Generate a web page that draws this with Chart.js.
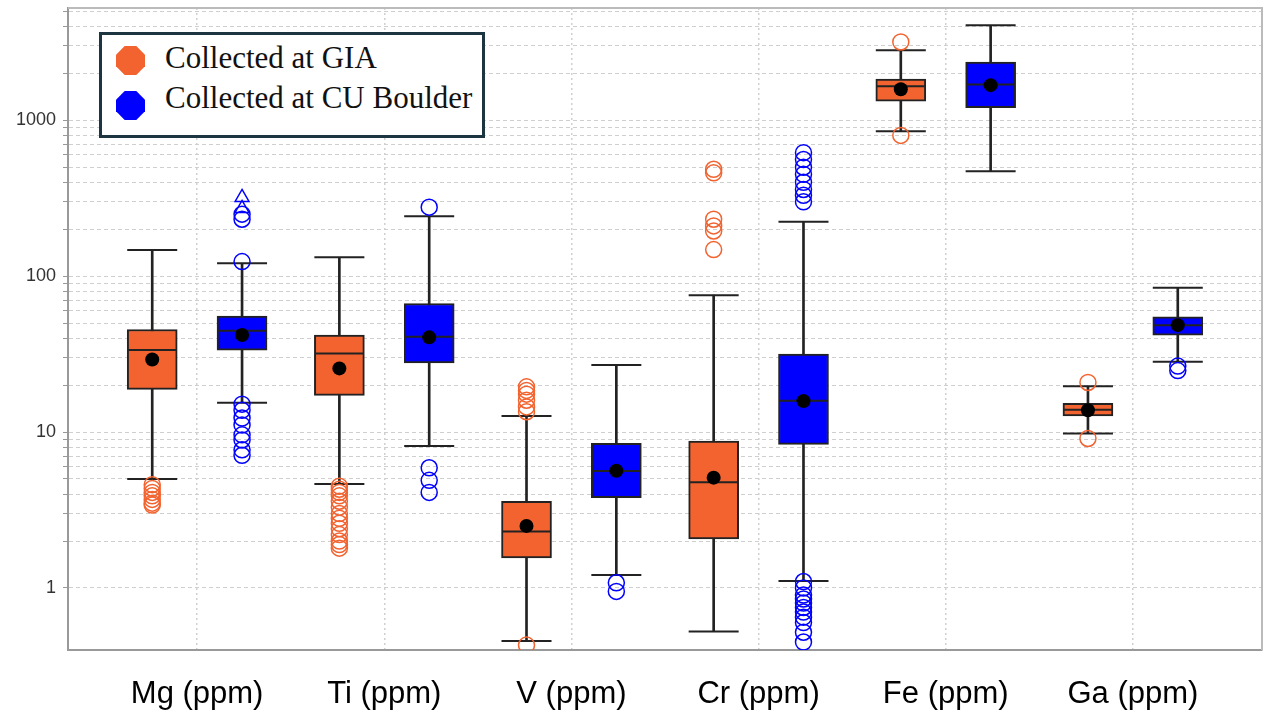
<!DOCTYPE html>
<html>
<head>
<meta charset="utf-8">
<script src="https://cdn.jsdelivr.net/npm/chart.js@4.4.0/dist/chart.umd.min.js"></script>
<style>
  body { margin: 0; background: #fff; }
  #wrap { position: relative; width: 1263px; height: 723px; }
  #legend {
    position: absolute; left: 99px; top: 32px; width: 380px; height: 100px;
    border: 3px solid #1d3541; background: #fff;
    font-family: "Liberation Serif", "Times New Roman", serif; font-size: 31px; color: #111;
  }
  .row { position: absolute; left: 63px; line-height: 31px; white-space: nowrap; }
  .oct {
    position: absolute; left: 14px; width: 29px; height: 29px;
    clip-path: polygon(30% 0, 70% 0, 100% 30%, 100% 70%, 70% 100%, 30% 100%, 0 70%, 0 30%);
  }
</style>
</head>
<body>
<div id="wrap">
  <canvas id="chart" width="1263" height="723"></canvas>
  <div id="legend">
    <div class="oct" style="top:11px;background:#f2632f"></div>
    <div class="row" style="top:7px">Collected at GIA</div>
    <div class="oct" style="top:56px;background:#0000ff"></div>
    <div class="row" style="top:47px">Collected at CU Boulder</div>
  </div>
</div>
<script>
const ctx = document.getElementById('chart');

// categories and tick values
const elements = ['Mg (ppm)', 'Ti (ppm)', 'V (ppm)', 'Cr (ppm)', 'Fe (ppm)', 'Ga (ppm)'];
const yTicks = [1, 2, 3, 4, 5, 6, 7, 8, 9, 10, 20, 30, 40, 50, 60, 70, 80, 90,
  100, 200, 300, 400, 500, 600, 700, 800, 900, 1000, 2000, 3000, 4000, 5000];
const yLabels = [1, 10, 100, 1000];

// Collected at GIA
const giaLow = [5.0, 4.64, 0.457, 0.525, 850, 9.8];
const giaQ1 = [18.8, 17.2, 1.56, 2.06, 1324, 12.7];
const giaMedian = [33.6, 31.9, 2.30, 4.76, 1652, 13.9];
const giaQ3 = [45.5, 41.9, 3.59, 8.76, 1840, 15.3];
const giaHigh = [147, 132, 12.7, 75.5, 2810, 19.7];
const giaMean = [29.2, 25.6, 2.50, 5.10, 1580, 13.8];
const giaOutliers = [
  [4.6, 4.35, 4.1, 3.9, 3.7, 3.5, 3.4],
  [4.5, 4.3, 4.1, 3.9, 3.6, 3.3, 3.0, 2.8, 2.6, 2.4, 2.2, 2.0, 1.9, 1.8],
  [19.5, 18.5, 17.5, 16, 14.5, 13.5, 0.43],
  [485, 460, 232, 210, 195, 148],
  [3180, 800],
  [20.8, 9.1]
];

// Collected at CU Boulder
const cuLow = [15.4, 8.13, 1.21, 1.11, 471, 28.2];
const cuQ1 = [33.5, 27.8, 3.79, 8.34, 1206, 41.9];
const cuMedian = [44.6, 40.8, 5.62, 15.9, 1693, 48.5];
const cuQ3 = [55.4, 66.8, 8.46, 31.6, 2366, 54.9];
const cuHigh = [121, 242, 26.9, 223, 4064, 84.2];
const cuMean = [41.9, 40.5, 5.65, 15.8, 1680, 48.5];
const cuOutliers = [
  [250, 232, 124, 15.1, 13.8, 12.3, 11.1, 9.6, 8.9, 7.7, 7.1],
  [277, 5.9, 4.9, 4.1],
  [1.08, 0.95],
  [620, 560, 500, 450, 400, 360, 330, 300, 1.1, 1.0, 0.9, 0.85, 0.8, 0.75, 0.7, 0.65, 0.6, 0.52, 0.45],
  [],
  [26.5, 24.8]
];
const cuExtremes = [[320, 272], [], [], [], [], []];

const orange = '#f2632f';
const blue = '#0000ff';
const ink = '#222';
const shift = 0.24; // half distance between the two boxes of a group

const at = (side) => (v, i) => ({ x: i + side * shift, y: v });
const range = (side, lo, hi) => lo.map((v, i) => ({ x: i + side * shift, y: [v, hi[i]] }));
const spread = (side, lists) => lists.flatMap((l, i) => l.map(v => ({ x: i + side * shift, y: v })));

function whisker(side, lo, hi) {
  return { type: 'bar', data: range(side, lo, hi), backgroundColor: ink, barThickness: 2,
    grouped: false, order: 6 };
}
function caps(side, vals) {
  return { type: 'scatter', data: vals.map(at(side)), pointStyle: 'line', radius: 25,
    borderColor: ink, borderWidth: 2, order: 5 };
}
function box(side, label, color) {
  const q1 = side < 0 ? giaQ1 : cuQ1, q3 = side < 0 ? giaQ3 : cuQ3;
  return { type: 'bar', label: label, data: range(side, q1, q3), backgroundColor: color,
    borderColor: ink, borderWidth: 2, borderSkipped: false, barThickness: 50, grouped: false, order: 4 };
}
function median(side, vals) {
  return { type: 'scatter', data: vals.map(at(side)), pointStyle: 'line', radius: 24,
    borderColor: ink, borderWidth: 2, order: 3 };
}
function mean(side, vals) {
  return { type: 'scatter', data: vals.map(at(side)), pointStyle: 'circle', radius: 7,
    backgroundColor: '#000', borderWidth: 0, order: 2 };
}
function outliers(side, lists, color, style) {
  return { type: 'scatter', data: spread(side, lists), pointStyle: style, radius: 8,
    backgroundColor: 'rgba(0,0,0,0)', borderColor: color, borderWidth: 1.5, order: 1 };
}

function noPadding(s) {
  s.paddingTop = 0; s.paddingBottom = 0; s.paddingLeft = 0; s.paddingRight = 0;
}

const frame = {
  id: 'frame',
  beforeDatasetsDraw(chart) {
    const a = chart.chartArea, c = chart.ctx;
    c.save();
    c.strokeStyle = '#bbb';
    c.lineWidth = 2;
    c.beginPath();
    c.moveTo(a.left, a.top);
    c.lineTo(a.right, a.top);
    c.lineTo(a.right, a.bottom);
    c.stroke();
    c.restore();
  }
};

new Chart(ctx, {
  type: 'bar',
  data: {
    datasets: [
      whisker(-1, giaLow, giaHigh), whisker(1, cuLow, cuHigh),
      caps(-1, giaLow), caps(-1, giaHigh), caps(1, cuLow), caps(1, cuHigh),
      box(-1, 'Collected at GIA', orange), box(1, 'Collected at CU Boulder', blue),
      median(-1, giaMedian), median(1, cuMedian),
      mean(-1, giaMean), mean(1, cuMean),
      outliers(-1, giaOutliers, orange, 'circle'), outliers(1, cuOutliers, blue, 'circle'),
      outliers(1, cuExtremes, blue, 'triangle')
    ]
  },
  options: {
    responsive: false,
    animation: false,
    events: [],
    layout: { autoPadding: false, padding: { top: 8, right: 1, left: 0, bottom: 0 } },
    plugins: { legend: { display: false }, tooltip: { enabled: false } },
    scales: {
      x: {
        type: 'linear',
        offset: false,
        min: -0.69,
        max: 5.69,
        afterBuildTicks: (s) => { s.ticks = elements.map((e, i) => ({ value: i })); },
        afterFit: (s) => { s.height = 73; noPadding(s); },
        ticks: {
          callback: (v) => elements[v],
          color: '#000',
          padding: 26,
          maxRotation: 0,
          autoSkip: false,
          font: { family: '"Liberation Sans", Arial, sans-serif', size: 31 }
        },
        grid: { offset: false, color: '#d0d0d0', lineWidth: 1.5, drawTicks: false },
        border: { color: '#999', width: 2, dash: [2, 3] }
      },
      y: {
        type: 'logarithmic',
        min: 0.4,
        max: 5250,
        afterBuildTicks: (s) => { s.ticks = yTicks.map(v => ({ value: v })); },
        afterFit: (s) => { s.width = 68; noPadding(s); },
        ticks: {
          callback: (v) => yLabels.includes(v) ? String(v) : '',
          color: '#333',
          padding: 7,
          autoSkip: false,
          font: { family: '"Liberation Sans", Arial, sans-serif', size: 18 }
        },
        grid: { color: '#cfcfcf', lineWidth: 1, tickLength: 5, tickColor: '#999', tickBorderDash: [] },
        border: { color: '#999', width: 2, dash: [4, 3] }
      }
    }
  },
  plugins: [frame]
});
</script>
</body>
</html>
